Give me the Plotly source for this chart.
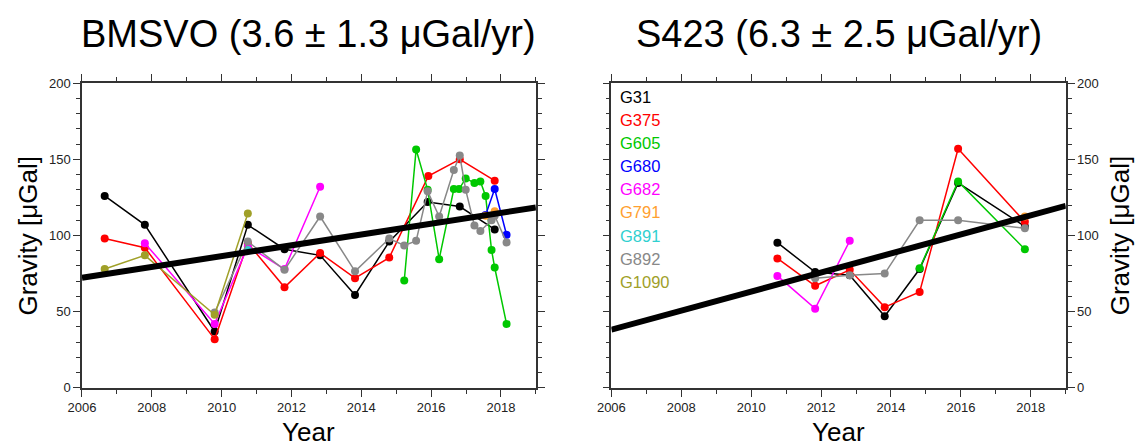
import plotly.graph_objects as go

# ---------------- data ----------------
station_names = ["G31", "G375", "G605", "G680", "G682", "G791", "G891", "G892", "G1090"]
station_colors = ["#000000", "#ff0000", "#00c800", "#0000ff", "#ff00ff",
                  "#ffa030", "#30d0d0", "#888888", "#a0a028"]

# BMSVO panel
bmsvo_years = {
    "G31":   [2006.65, 2007.8, 2009.8, 2010.75, 2011.8, 2012.82, 2013.82, 2014.8, 2015.9, 2016.82, 2017.82],
    "G375":  [2006.65, 2007.8, 2009.8, 2010.75, 2011.8, 2012.82, 2013.82, 2014.8, 2015.92, 2016.82, 2017.82],
    "G605":  [2015.23, 2015.57, 2015.9, 2016.23, 2016.65, 2016.8, 2016.99, 2017.24, 2017.41, 2017.56, 2017.73, 2017.82, 2018.16],
    "G680":  [2017.56, 2017.82, 2018.16],
    "G682":  [2007.8, 2009.8, 2010.75, 2011.8, 2012.82],
    "G791":  [2017.56, 2017.82],
    "G891":  [2010.75],
    "G892":  [2009.8, 2010.75, 2011.8, 2012.82, 2013.82, 2014.8, 2015.23, 2015.57, 2015.9, 2016.23,
              2016.65, 2016.82, 2016.99, 2017.24, 2017.41, 2017.73, 2017.82, 2018.16],
    "G1090": [2006.65, 2007.8, 2009.8, 2010.75],
}
bmsvo_values = {
    "G31":   [126, 107, 37, 107, 91, 87, 61, 96, 122, 119, 104],
    "G375":  [98, 92, 32, 95, 66, 88.5, 72, 85.5, 139, 150, 136],
    "G605":  [70.5, 156.5, 130, 84.5, 130.5, 130.5, 137.5, 134.5, 135.5, 126, 90.5, 79, 42],
    "G680":  [113.5, 130.5, 100.5],
    "G682":  [95, 42, 93, 78, 132],
    "G791":  [113, 116],
    "G891":  [90.5],
    "G892":  [49.5, 96, 77.5, 112.5, 76.5, 98, 93.5, 96.5, 129, 112.5, 143, 152.5, 130, 106.5, 103, 110, 113, 95.5],
    "G1090": [78, 87, 48, 114.5],
}

# S423 panel
s423_years = {
    "G31":  [2010.75, 2011.83, 2012.82, 2013.82, 2014.82, 2015.92, 2017.83],
    "G375": [2010.75, 2011.83, 2012.82, 2013.82, 2014.82, 2015.92, 2017.83],
    "G605": [2014.82, 2015.92, 2017.83],
    "G682": [2010.75, 2011.83, 2012.82],
    "G791": [2017.83],
    "G892": [2011.83, 2012.82, 2013.82, 2014.82, 2015.92, 2017.83],
}
s423_values = {
    "G31":  [95.3, 76, 74, 47, 78, 134.5, 106],
    "G375": [85, 67, 77.5, 53, 63, 157, 109],
    "G605": [78.5, 135.5, 91],
    "G682": [73.5, 52, 96.5],
    "G791": [112.5],
    "G892": [72, 74, 75, 110, 110, 104.7],
}

# fitted trend lines (end points)
trend_years = [2006, 2019]
bmsvo_trend = [72.3, 118.4]
s423_trend = [38.2, 119.5]

titles = ["BMSVO (3.6 \u00b1 1.3 \u03bcGal/yr)", "S423 (6.3 \u00b1 2.5 \u03bcGal/yr)"]
x_label = "Year"
y_label = "Gravity [\u03bcGal]"

# ---------------- figure ----------------
W, H = 1145, 445
FONT = "Liberation Sans, Helvetica, Arial, sans-serif"

# mapping of target-screen pixel positions to paper fractions
# (compensates the page offset/scale observed in the viewer)
OX, SX, OY, SY = 22.0, 0.988, 16.0, 0.964

def px(x):
    return ((x - OX) / SX) / W

def py(y):
    return 1 - ((y - OY) / SY) / H

fig = go.Figure()
color_of = dict(zip(station_names, station_colors))

def add_panel(years, values, trend, xa, ya):
    for name in station_names:
        if name not in years:
            continue
        fig.add_trace(go.Scatter(
            x=years[name], y=values[name], mode="lines+markers",
            line=dict(color=color_of[name], width=1.5),
            marker=dict(color=color_of[name], size=8),
            xaxis=xa, yaxis=ya, showlegend=False, name=name))
    fig.add_trace(go.Scatter(
        x=trend_years, y=trend, mode="lines",
        line=dict(color="black", width=6),
        xaxis=xa, yaxis=ya, showlegend=False, name="trend"))

add_panel(bmsvo_years, bmsvo_values, bmsvo_trend, "x", "y")
add_panel(s423_years, s423_values, s423_trend, "x2", "y2")

ax_common = dict(showgrid=False, zeroline=False, showline=True, linecolor="#333333",
                 linewidth=1.5, mirror="allticks", ticks="outside", ticklen=7,
                 tickwidth=1.2, tickcolor="#333333",
                 tickfont=dict(family=FONT, size=13, color="#222222"))

x0L, x1L = px(82), px(536)
x0R, x1R = px(611.5), px(1066)
yb, yt = py(388), py(84)

xcommon = dict(ax_common, range=[2006, 2019], tick0=2006, dtick=2,
               minor=dict(dtick=1, ticklen=4, ticks="outside", tickcolor="#333333", tickwidth=1))
ycommon = dict(ax_common, range=[0, 200], tick0=0, dtick=50,
               minor=dict(dtick=10, ticklen=4, ticks="outside", tickcolor="#333333", tickwidth=1))

fig.update_layout(
    width=W, height=H, margin=dict(l=0, r=0, t=0, b=0),
    paper_bgcolor="white", plot_bgcolor="white",
    xaxis=dict(xcommon, domain=[x0L, x1L], anchor="y"),
    yaxis=dict(ycommon, domain=[yb, yt], anchor="x", side="left"),
    xaxis2=dict(xcommon, domain=[x0R, x1R], anchor="y2"),
    yaxis2=dict(ycommon, domain=[yb, yt], anchor="x2", side="right"),
)

ann = []
for i, (x0, x1) in enumerate([(x0L, x1L), (x0R, x1R)]):
    ann.append(dict(text=titles[i], x=(x0 + x1) / 2, y=py(35), xref="paper", yref="paper",
                    showarrow=False, font=dict(family=FONT, size=38, color="black"),
                    xanchor="center", yanchor="middle"))
    ann.append(dict(text=x_label, x=(x0 + x1) / 2, y=py(432), xref="paper", yref="paper",
                    showarrow=False, font=dict(family=FONT, size=26, color="black"),
                    xanchor="center", yanchor="middle"))
for xp in (28, 1120):
    ann.append(dict(text=y_label, x=px(xp), y=py(236), xref="paper", yref="paper", textangle=-90,
                    showarrow=False, font=dict(family=FONT, size=26, color="black"),
                    xanchor="center", yanchor="middle"))
for i, (name, col) in enumerate(zip(station_names, station_colors)):
    ann.append(dict(text=name, x=px(618), y=py(98 + 23 * i), xref="paper", yref="paper",
                    showarrow=False, font=dict(family=FONT, size=16.5, color=col),
                    xanchor="left", yanchor="middle"))
fig.update_layout(annotations=ann)

fig.write_html("out.html")
